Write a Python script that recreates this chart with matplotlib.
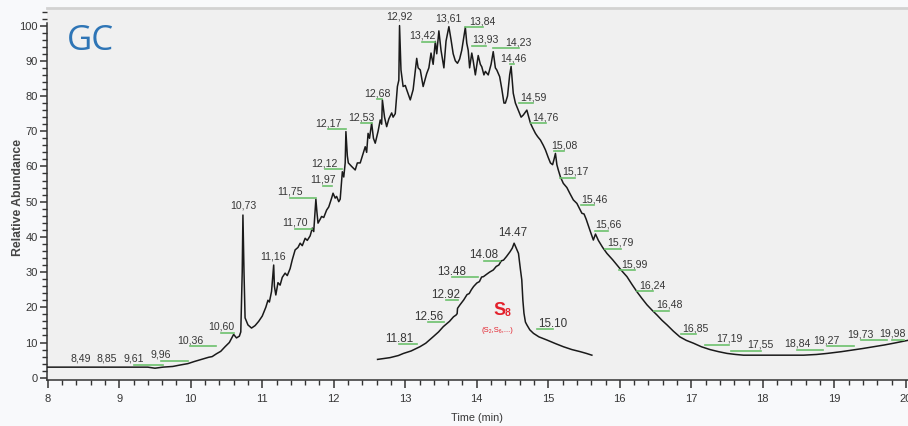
import numpy as np
import matplotlib
matplotlib.use("Agg")
import matplotlib.pyplot as plt
from matplotlib.ticker import MultipleLocator, FixedLocator
from matplotlib.transforms import IdentityTransform
from matplotlib.lines import Line2D

# ---------------- data ----------------
main_time = [8.00, 8.49, 9.00, 9.40, 9.50, 9.61, 9.75, 9.85, 9.96, 10.05, 10.15, 10.25,
             10.30, 10.36, 10.42, 10.48, 10.54, 10.60, 10.64, 10.68, 10.70, 10.72, 10.73,
             10.745, 10.76, 10.80, 10.85, 10.90, 10.95, 11.00, 11.05, 11.08, 11.10, 11.13,
             11.16, 11.17, 11.19, 11.22, 11.25, 11.28, 11.32, 11.35, 11.39, 11.42, 11.46,
             11.50, 11.53, 11.56, 11.60, 11.63, 11.67, 11.70, 11.72, 11.75, 11.765, 11.78,
             11.81, 11.83, 11.86, 11.90, 11.93, 11.97, 11.99, 12.02, 12.04, 12.07, 12.09,
             12.12, 12.14, 12.16, 12.17, 12.19, 12.204, 12.25, 12.30, 12.33, 12.37, 12.40,
             12.44, 12.46, 12.48, 12.50, 12.53, 12.555, 12.58, 12.62, 12.65, 12.67, 12.68,
             12.71, 12.74, 12.77, 12.81, 12.83, 12.86, 12.89, 12.91, 12.92, 12.94, 12.97,
             13.00, 13.02, 13.07, 13.11, 13.16, 13.18, 13.21, 13.25, 13.30, 13.33, 13.36,
             13.39, 13.42, 13.44, 13.47, 13.50, 13.54, 13.57, 13.61, 13.64, 13.67, 13.70,
             13.73, 13.76, 13.79, 13.84, 13.86, 13.88, 13.90, 13.93, 13.95, 13.98, 14.02,
             14.05, 14.07, 14.10, 14.12, 14.16, 14.20, 14.23, 14.26, 14.28, 14.32, 14.35,
             14.38, 14.40, 14.43, 14.46, 14.48, 14.51, 14.54, 14.58, 14.62, 14.65, 14.70,
             14.75, 14.78, 14.82, 14.85, 14.89, 14.93, 14.96, 15.00, 15.03, 15.06, 15.08,
             15.10, 15.12, 15.14, 15.17, 15.21, 15.26, 15.30, 15.35, 15.40, 15.45, 15.47,
             15.50, 15.53, 15.58, 15.63, 15.66, 15.70, 15.76, 15.82, 15.90, 15.96, 16.03,
             16.10, 16.17, 16.24, 16.31, 16.38, 16.45, 16.52, 16.59, 16.66, 16.75, 16.84,
             16.93, 17.03, 17.14, 17.26, 17.38, 17.50, 17.62, 17.73, 17.90, 18.10, 18.30,
             18.57, 18.75, 18.90, 19.10, 19.27, 19.40, 19.55, 19.70, 19.83, 20.05]
main_abund = [3.0, 3.0, 3.0, 3.0, 2.7, 3.0, 3.2, 3.6, 4.0, 4.6, 5.2, 5.8,
              6.0, 6.8, 7.5, 8.8, 10.0, 12.3, 11.3, 11.8, 13.0, 30.0, 46.2,
              30.0, 17.0, 15.0, 14.1, 14.8, 16.0, 17.5, 20.0, 22.0, 21.5, 24.5,
              32.0, 26.0, 23.5, 27.0, 26.3, 28.5, 29.7, 29.0, 31.0, 33.5, 36.3,
              37.0, 38.2, 37.5, 39.6, 39.0, 40.3, 42.5, 41.5, 50.7, 47.0, 43.9,
              45.0, 45.8, 45.5, 47.6, 48.5, 51.0, 52.4, 51.0, 51.5, 50.0, 50.7,
              58.5, 57.0, 61.0, 69.9, 63.0, 61.0, 60.0, 59.0, 61.0, 61.0, 63.0,
              65.6, 64.0, 69.4, 68.0, 72.3, 68.0, 66.6, 70.0, 73.2, 72.0, 78.9,
              74.0, 71.3, 73.5, 75.2, 74.0, 75.0, 82.7, 84.5, 100.0, 87.4, 82.7,
              83.0, 81.8, 78.9, 81.8, 90.7, 88.0, 87.4, 82.7, 86.4, 88.0, 92.2,
              89.0, 95.5, 92.0, 98.5, 93.0, 88.0, 95.6, 99.7, 96.0, 92.0, 90.0,
              89.3, 90.5, 93.0, 99.5, 95.0, 93.0, 88.0, 92.2, 90.0, 86.0, 91.5,
              89.0, 88.3, 86.0, 87.0, 86.0, 89.0, 92.6, 88.0, 87.4, 85.5, 82.0,
              78.0, 78.0, 80.0, 86.0, 88.4, 80.8, 78.0, 76.0, 74.0, 74.6, 76.0,
              72.3, 71.0, 69.4, 68.5, 67.5, 66.0, 64.7, 62.5, 61.0, 60.5, 62.0,
              63.7, 60.5, 59.0, 57.0, 55.2, 54.0, 52.4, 50.5, 49.5, 47.5, 46.7,
              46.5, 45.0, 42.0, 39.1, 40.8, 39.0, 37.0, 35.3, 33.5, 32.0, 30.3,
              28.7, 26.5, 24.4, 22.5, 20.7, 19.2, 17.8, 16.3, 15.0, 13.2, 11.6,
              10.6, 9.8, 8.8, 8.0, 7.4, 6.9, 6.6, 6.4, 6.4, 6.4, 6.4,
              6.4, 6.6, 6.9, 7.4, 7.9, 8.3, 8.8, 9.3, 9.8, 10.7]

s8_time = [10.73, 11.07, 11.30, 11.44, 11.65, 11.89, 12.05, 12.26, 12.40, 12.53, 12.62,
           12.70, 12.81, 12.88, 12.91, 12.92, 12.98, 13.09, 13.18, 13.24, 13.30, 13.36,
           13.45, 13.52, 13.58, 13.63, 13.72, 13.80, 13.90, 13.98, 14.05, 14.12, 14.18,
           14.26, 14.36, 14.42, 14.47, 14.52, 14.59, 14.64, 14.68, 14.71, 14.74, 14.78,
           14.82, 14.90, 15.00, 15.15, 15.37, 15.60, 15.82, 16.05, 16.28, 16.45, 16.60]
s8_abund = [5.2, 5.7, 6.3, 6.9, 7.6, 8.8, 9.8, 11.7, 13.0, 14.5, 15.3,
            16.0, 17.3, 17.8, 18.2, 19.7, 20.6, 22.1, 23.6, 23.9, 25.0, 25.9,
            26.9, 27.3, 28.6, 28.7, 29.4, 30.0, 30.6, 31.6, 32.0, 33.2, 33.4,
            34.4, 35.8, 36.8, 38.2, 37.0, 35.3, 31.0, 27.8, 22.0, 18.3, 15.8,
            15.0, 13.6, 12.6, 11.6, 10.7, 9.7, 8.8, 8.0, 7.4, 6.9, 6.4]

main_peaks = [8.49, 8.85, 9.61, 9.96, 10.36, 10.60, 10.73, 11.16, 11.70, 11.75, 11.97,
              12.12, 12.17, 12.53, 12.68, 12.92, 13.42, 13.61, 13.84, 13.93, 14.23,
              14.46, 14.59, 14.76, 15.08, 15.17, 15.46, 15.66, 15.79, 15.99, 16.24,
              16.48, 16.85, 17.19, 17.55, 18.84, 19.27, 19.73, 19.98]
s8_peaks = [11.81, 12.56, 12.92, 13.48, 14.08, 14.47, 15.10]

x_ticks = [8, 9, 10, 11, 12, 13, 14, 15, 16, 17, 18, 19, 20]
y_ticks = [0, 10, 20, 30, 40, 50, 60, 70, 80, 90, 100]

# ---------------- layout (pixel offsets of labels from their peak) ----------------
main_offsets = [(-2, 4), (-1.5, 4), (-29, 4), (-27, 4.6), (-26, 9), (-12.6, 3.4), (0, 5),
                (-0.6, 4.4), (-17.5, 1), (-26, 3), (-8.5, 14), (-17.6, 4), (-18, 3.7),
                (-10.6, 1.5), (-5, 2), (0, 5), (-13, 1), (0, 4), (17.5, 1.5), (14, 9),
                (25.5, 5), (4, 12), (14, 10), (14.5, 3), (10, 9.5), (15, 1), (13, 8),
                (12.7, 5), (16, 3), (15.6, -1), (15.7, 2), (15, 3), (15, 4.5), (24, 4.5),
                (30, 4.5), (-26, 5.5), (-27, 5), (-26, 5.6), (-12, 3)]
s8_offsets = [(-18, 6), (-16, 5.6), (-12, 10), (-26.4, 7), (-16, 4.7), (-1, 6.5), (16, 8.5)]

FONT = "Liberation Sans"
TXT = "#363636"
GREEN = "#6cc06c"
RED = "#e3202b"

fig = plt.figure(figsize=(9.08, 4.26), dpi=100, facecolor="#f8f9fb")
ax = fig.add_axes([46.7 / 908, 46 / 426, (908 - 46.7) / 908, 372 / 426])
ax.set_facecolor("#f0f0f0")
ax.set_xlim(7.986, 20.03)
ax.set_ylim(-0.65, 105)

ax.plot(main_time, main_abund, color="#1a1a1a", lw=1.1, zorder=3)

ax.spines["right"].set_visible(False)
ax.spines["top"].set_color("#d2d2d2")
ax.spines["top"].set_linewidth(2)
for s in ["left", "bottom"]:
    ax.spines[s].set_color("#333333")
    ax.spines[s].set_linewidth(1.1)
ax.spines["left"].set_bounds(-0.65, 100.6)

ax.xaxis.set_major_locator(FixedLocator(x_ticks))
ax.yaxis.set_major_locator(FixedLocator(y_ticks))
ax.xaxis.set_minor_locator(MultipleLocator(0.2))
ax.yaxis.set_minor_locator(MultipleLocator(2))
ax.tick_params(axis="both", which="major", direction="out", length=6, width=1.1,
               color="#333333", labelcolor=TXT, labelsize=8)
ax.tick_params(axis="both", which="minor", direction="out", length=3.5, width=1.0,
               color="#333333")
ax.tick_params(axis="x", which="major", pad=4)
ax.tick_params(axis="y", which="major", pad=1.5, length=5)
ax.set_xticklabels([str(v) for v in x_ticks], family=FONT)
ax.set_yticklabels([str(v) for v in y_ticks], family=FONT)

ax.set_xlabel("Time (min)", family=FONT, fontsize=7.8, color=TXT)
ax.xaxis.set_label_coords(0.5, -0.102)
ax.xaxis.label.set_verticalalignment("center")
ax.set_ylabel("Relative Abundance", family=FONT, fontweight="bold",
              fontsize=8.8, color="#444444")
ax.yaxis.set_label_coords(-0.0335, 0.49)
ax.yaxis.label.set_verticalalignment("center")

fig.text(67 / 908, 1 - 50 / 426, "GC", family="Open Sans", fontsize=25,
         color="#2e75b6", ha="left", va="baseline")

# inset S8 chromatogram on its own (compressed) time scale
ax2 = fig.add_axes(ax.get_position(), facecolor="none")
ax2.axis("off")
x0, x1 = ax.get_xlim()
compress = 71.5 / 36.5
main_ref, inset_ref = 14.522, 14.47
ax2.set_xlim(inset_ref + (x0 - main_ref) * compress, inset_ref + (x1 - main_ref) * compress)
ax2.set_ylim(ax.get_ylim())
ax2.plot(s8_time, s8_abund, color="#1a1a1a", lw=1.1, zorder=3)

fig.canvas.draw()


def add_labels(axis, times, abund, peaks, offsets, fmt, size, base_shift, gshift):
    for t, (dx, dy) in zip(peaks, offsets):
        v = float(np.interp(t, times, abund))
        axis.annotate(fmt(t), xy=(t, v), xytext=(dx, dy + base_shift),
                      textcoords="offset pixels", ha="center", va="baseline",
                      family=FONT, fontsize=size, color=TXT, zorder=5,
                      annotation_clip=False)
        if abs(dx) > 3:
            px, py = axis.transData.transform((t, v))
            gy = py + dy - gshift
            fig.add_artist(Line2D([px + dx, px], [gy, gy], transform=IdentityTransform(),
                                  color=GREEN, lw=1.2, zorder=4))


add_labels(ax, main_time, main_abund, main_peaks, main_offsets,
           lambda t: f"{t:.2f}".replace(".", ","), 7.6, 1.5, 1.5)
add_labels(ax2, s8_time, s8_abund, s8_peaks, s8_offsets,
           lambda t: f"{t:.2f}", 8.4, 0.5, 2)

# S8 annotation
fig.text(500 / 908, 1 - 315 / 426, "S", family=FONT, fontweight="bold", fontsize=13,
         color=RED, ha="center", va="baseline")
fig.text(505 / 908, 1 - 316 / 426, "8", family=FONT, fontweight="bold", fontsize=7.5,
         color=RED, ha="left", va="baseline")
fig.text(497 / 908, 1 - 332 / 426, "(S\u2082,S\u2086,...)", family=[FONT, "DejaVu Sans"],
         fontsize=5.5, color=RED, ha="center", va="baseline")

fig.savefig("out.png", dpi=100, facecolor=fig.get_facecolor())
